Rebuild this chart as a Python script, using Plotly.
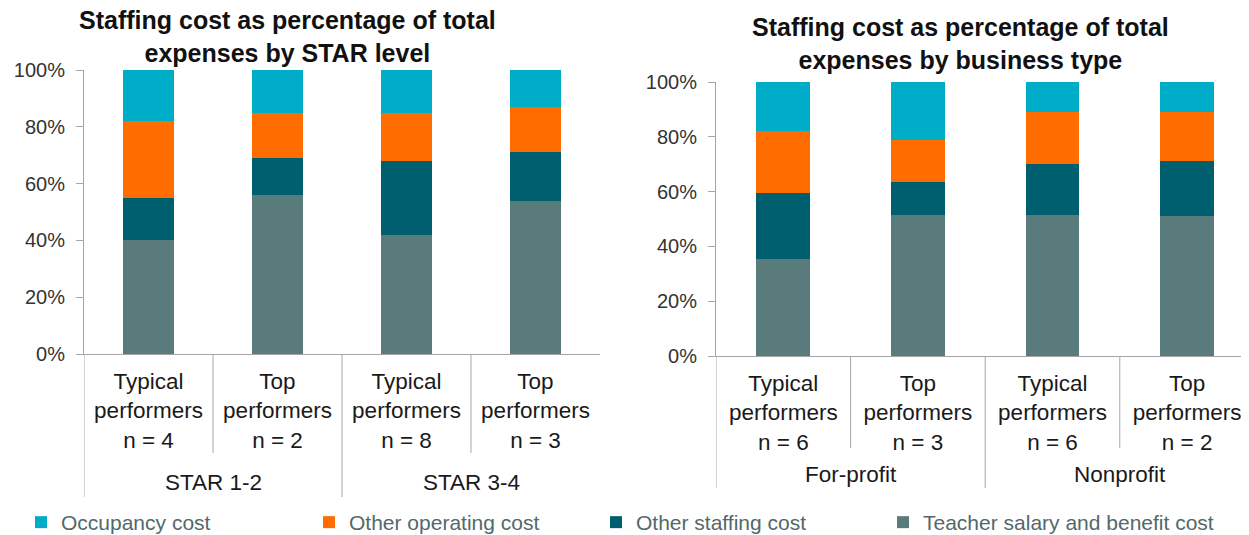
import plotly.graph_objects as go

# STAR level chart
star_groups = ["STAR 1-2", "STAR 1-2", "STAR 3-4", "STAR 3-4"]
star_labels = ["Typical<br>performers<br>n = 4", "Top<br>performers<br>n = 2",
               "Typical<br>performers<br>n = 8", "Top<br>performers<br>n = 3"]
star_teacher = [40, 56, 42, 54]
star_staffing = [15, 13, 26, 17]
star_operating = [27, 16, 17, 16]
star_occupancy = [18, 15, 15, 13]

# business type chart
biz_groups = ["For-profit", "For-profit", "Nonprofit", "Nonprofit"]
biz_labels = ["Typical<br>performers<br>n = 6", "Top<br>performers<br>n = 3",
              "Typical<br>performers<br>n = 6", "Top<br>performers<br>n = 2"]
biz_teacher = [35.5, 51.5, 51.5, 51]
biz_staffing = [24, 12, 18.5, 20]
biz_operating = [22.5, 15.5, 19, 18]
biz_occupancy = [18, 21, 11, 11]

series_names = ["Teacher salary and benefit cost", "Other staffing cost",
                "Other operating cost", "Occupancy cost"]
colors = ["#5a7b7b", "#005f6e", "#ff6d00", "#00adc8"]
y_ticks = [0, 20, 40, 60, 80, 100]

FONT = "Liberation Sans, Arial, sans-serif"
AXIS_COLOR = "#a6a6a6"

# the page puts the figure 8px in from the top-left corner
W, H, OFF = 1241, 535, 8


def fx(px):
    return (px - OFF) / W


def fy(py):
    return 1 - (py - OFF) / H


# where each legend entry's text starts on the page (px)
legend_text_x = {"Occupancy cost": 59, "Other operating cost": 347,
                 "Other staffing cost": 634, "Teacher salary and benefit cost": 921}
legend_ids = {"Occupancy cost": "legend", "Other operating cost": "legend2",
              "Other staffing cost": "legend3", "Teacher salary and benefit cost": "legend4"}

fig = go.Figure()

charts = [
    (star_groups, star_labels, [star_teacher, star_staffing, star_operating, star_occupancy], "x", "y"),
    (biz_groups, biz_labels, [biz_teacher, biz_staffing, biz_operating, biz_occupancy], "x2", "y2"),
]

for k, (groups, labels, values, xa, ya) in enumerate(charts):
    keys = [g + " | " + l for g, l in zip(groups, labels)]
    for name, vals, col in zip(series_names, values, colors):
        fig.add_trace(go.Bar(
            x=keys, y=vals, name=name, marker_color=col, marker_line_width=0,
            xaxis=xa, yaxis=ya, showlegend=(k == 0), legend=legend_ids[name],
        ))

axis_y = dict(range=[0, 100], tickvals=y_ticks, ticktext=[f"{v}%" for v in y_ticks],
              showgrid=False, zeroline=False, showline=True, linecolor=AXIS_COLOR,
              ticks="outside", ticklen=7, tickcolor=AXIS_COLOR, automargin=False,
              tickfont=dict(family=FONT, size=20, color="#333333"), ticklabelstandoff=7)

star_keys = [g + " | " + l for g, l in zip(star_groups, star_labels)]
biz_keys = [g + " | " + l for g, l in zip(biz_groups, biz_labels)]

axis_x = dict(type="category", showgrid=False, zeroline=False, showline=True, linecolor=AXIS_COLOR,
              ticks="", automargin=False,
              tickfont=dict(family=FONT, size=22.5, color="#1a1a1a"), ticklabelstandoff=7)

legend_common = dict(orientation="h", xanchor="left", y=0, yanchor="bottom",
                     font=dict(family=FONT, size=21, color="#52696b"), bgcolor="rgba(0,0,0,0)")

fig.update_layout(
    width=W, height=H,
    margin=dict(l=0, r=0, t=0, b=0),
    paper_bgcolor="white", plot_bgcolor="white",
    barmode="stack", bargap=0.6,
    xaxis=dict(axis_x, domain=[fx(84), fx(600)], range=[-0.5, 3.5],
               tickvals=star_keys, ticktext=star_labels),
    yaxis=dict(axis_y, domain=[fy(354), fy(70)], anchor="x"),
    xaxis2=dict(axis_x, domain=[fx(716), 1.0], range=[-0.5, 3.46],
                tickvals=biz_keys, ticktext=biz_labels, anchor="y2"),
    yaxis2=dict(axis_y, domain=[fy(356), fy(82)], anchor="x2"),
    font=dict(family=FONT),
)
for name, lid in legend_ids.items():
    fig.update_layout({lid: dict(legend_common, x=(legend_text_x[name] + 2 - 48) / W)})

# titles
fig.add_annotation(text="<b>Staffing cost as percentage of total<br>expenses by STAR level</b>",
                   xref="paper", yref="paper", x=fx(287), y=fy(37),
                   xanchor="center", yanchor="middle",
                   showarrow=False, font=dict(family=FONT, size=25, color="#111111"))
fig.add_annotation(text="<b>Staffing cost as percentage of total<br>expenses by business type</b>",
                   xref="paper", yref="paper", x=fx(960), y=fy(43),
                   xanchor="center", yanchor="middle",
                   showarrow=False, font=dict(family=FONT, size=25, color="#111111"))

# group labels and divider lines below each x axis
group_specs = [
    (star_groups, "x", fy(354), fy(482), fy(497), fy(453)),
    (biz_groups, "x2", fy(356), fy(474), fy(488), fy(448)),
]
for groups, xa, y_axis, y_label, y_long, y_short in group_specs:
    start = 0
    for i in range(1, len(groups) + 1):
        if i == len(groups) or groups[i] != groups[start]:
            fig.add_annotation(text=groups[start], xref=xa, yref="paper",
                               x=(start + i - 1) / 2, y=y_label, showarrow=False,
                               xanchor="center", yanchor="middle",
                               font=dict(family=FONT, size=22.5, color="#1a1a1a"))
            start = i
    for i in range(len(groups)):
        is_long = i == 0 or groups[i] != groups[i - 1]
        fig.add_shape(type="line", xref=xa, yref="paper", x0=i - 0.5, x1=i - 0.5,
                      y0=y_axis, y1=y_long if is_long else y_short,
                      line=dict(color=AXIS_COLOR, width=1))

fig.write_html("out.html")
